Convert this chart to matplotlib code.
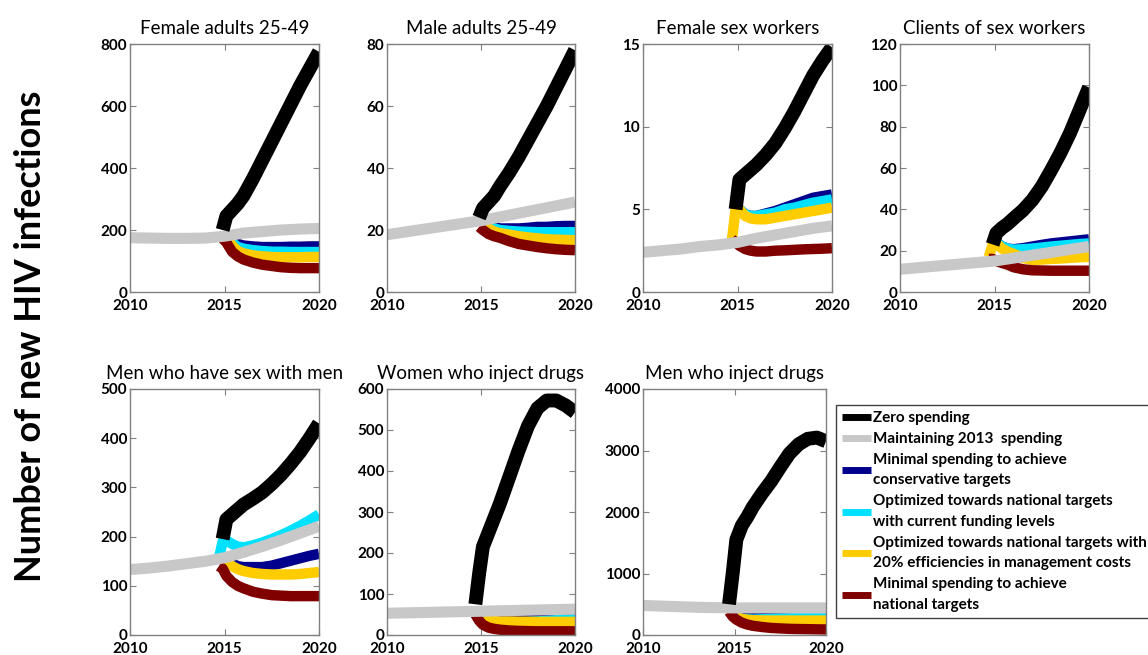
import numpy as np
import matplotlib
matplotlib.use('Agg')
from matplotlib import pyplot as plt
from matplotlib.lines import Line2D

plt.rcParams['font.family'] = ['Lato', 'DejaVu Sans']

nan = np.nan
years = [2010, 2011, 2012, 2013, 2014, 2015, 2016, 2017, 2018, 2019, 2020]
t_proj = [2014.7, 2014.9, 2015.1, 2015.4, 2015.7, 2016, 2016.5, 2017, 2017.5, 2018, 2018.5, 2019, 2019.5, 2020]

titles = ['Female adults 25-49', 'Male adults 25-49', 'Female sex workers', 'Clients of sex workers',
          'Men who have sex with men', 'Women who inject drugs', 'Men who inject drugs']
ymax = [800, 80, 15, 120, 500, 600, 4000]
ystep = [200, 20, 5, 20, 100, 100, 1000]

labels = ['Zero spending', 'Maintaining 2013  spending',
          'Minimal spending to achieve\nconservative targets',
          'Optimized towards national targets\nwith current funding levels',
          'Optimized towards national targets with\n20% efficiencies in management costs',
          'Minimal spending to achieve\nnational targets']
colors = ['#000000', '#c8c8c8', '#00008c', '#00e1ff', '#ffcc00', '#800000']

# maintaining 2013 spending (gray), per year
maintain = [
    [175, 174, 173, 173, 174, 180, 190, 195, 200, 203, 205],
    [18.5, 19.4, 20.3, 21.2, 22.1, 23, 24.2, 25.4, 26.6, 27.8, 29],
    [2.4, 2.5, 2.6, 2.75, 2.85, 3.0, 3.25, 3.45, 3.65, 3.85, 4.0],
    [11, 11.8, 12.6, 13.4, 14.2, 15, 16.4, 17.8, 19.2, 20.6, 22],
    [133, 136, 140, 145, 150, 157, 168, 180, 193, 207, 221],
    [53, 54, 55, 56, 57, 58, 59, 60, 61, 62, 63],
    [480, 470, 460, 450, 445, 440, 440, 440, 440, 440, 440],
]

# projections from 2015 on t_proj
zero = [
    [nan, 200, 245, 265, 285, 310, 365, 425, 485, 545, 605, 665, 720, 775],
    [nan, 24, 27, 29, 31, 34, 38.5, 43.5, 49, 54.5, 60, 66, 72, 78],
    [nan, 5.0, 6.8, 7.1, 7.4, 7.7, 8.3, 9.0, 9.9, 10.9, 12.0, 13.1, 14.0, 14.8],
    [nan, 23, 28.5, 31, 33, 35.5, 39.5, 44.5, 51, 59, 67.5, 77, 88, 99],
    [nan, 195, 235, 245, 255, 265, 277, 290, 307, 326, 348, 372, 400, 430],
    [75, 150, 215, 250, 285, 320, 385, 450, 510, 553, 572, 572, 560, 543],
    [500, 1000, 1550, 1780, 1920, 2080, 2300, 2500, 2730, 2950, 3100, 3190, 3210, 3150],
]
conservative = [
    [nan, nan, 178, 165, 155, 150, 147, 145, 145, 145, 146, 146, 147, 147],
    [nan, nan, 22, 21.5, 21, 20.5, 20.5, 20.5, 20.7, 21, 21, 21.2, 21.3, 21.3],
    [nan, nan, 5.0, 4.7, 4.6, 4.6, 4.75, 4.9, 5.1, 5.3, 5.5, 5.7, 5.8, 5.9],
    [nan, nan, 24, 22, 21, 20.7, 21.2, 22, 22.8, 23.5, 24, 24.5, 25, 25.5],
    [nan, nan, 155, 145, 140, 138, 138, 138, 141, 146, 151, 156, 161, 165],
    [nan, nan, 40, 35, 35, 35, 36, 37, 38, 39, 39.5, 40, 40.5, 41],
    [nan, nan, 330, 325, 320, 320, 320, 320, 320, 320, 322, 325, 328, 330],
]
current = [
    [nan, nan, 178, 160, 145, 140, 135, 132, 130, 130, 129, 129, 129, 129],
    [nan, nan, 22, 21, 20.5, 20, 19.7, 19.5, 19.4, 19.3, 19.3, 19.3, 19.3, 19.3],
    [nan, nan, 5.0, 4.7, 4.6, 4.6, 4.7, 4.8, 5.0, 5.1, 5.25, 5.4, 5.5, 5.6],
    [nan, nan, 24, 22, 21, 20.5, 20.7, 21, 21.5, 22, 22.4, 22.8, 23.2, 23.5],
    [155, 190, 192, 185, 180, 178, 182, 188, 195, 203, 212, 222, 233, 245],
    [nan, nan, 40, 30, 28, 27, 28, 30, 31.5, 33, 34.5, 36, 37, 38],
    [nan, nan, 280, 260, 255, 250, 255, 260, 265, 270, 275, 280, 285, 290],
]
efficient = [
    [nan, nan, 178, 150, 132, 125, 118, 115, 113, 112, 112, 112, 113, 113],
    [nan, nan, 22, 20.5, 19.5, 19, 18.5, 18, 17.6, 17.3, 17, 16.9, 16.8, 16.7],
    [3.1, 5.0, 5.0, 4.6, 4.45, 4.4, 4.4, 4.5, 4.6, 4.7, 4.8, 4.9, 5.0, 5.1],
    [17, 23, 23.5, 21, 19.5, 18.5, 16.5, 15.5, 15.7, 16, 16.2, 16.5, 16.8, 17],
    [nan, 155, 150, 140, 134, 130, 126, 124, 123, 123, 123, 124, 126, 128],
    [nan, nan, 40, 35, 34, 33, 33, 32.5, 32.5, 32, 32, 32, 32, 32],
    [nan, nan, 300, 260, 248, 240, 237, 235, 235, 235, 235, 235, 235, 235],
]
national = [
    [nan, 172, 160, 130, 115, 105, 95, 88, 84, 80, 78, 77, 77, 77],
    [nan, 21, 20, 18.7, 18, 17.5, 16.4, 15.5, 15, 14.5, 14.1, 13.8, 13.6, 13.5],
    [3.2, 3.0, 2.8, 2.6, 2.5, 2.45, 2.45, 2.5, 2.52, 2.55, 2.58, 2.6, 2.62, 2.65],
    [16, 16, 15, 14, 13.2, 12, 11, 10.5, 10.4, 10.3, 10.3, 10.3, 10.3, 10.3],
    [140, 135, 120, 108, 100, 95, 88, 84, 81, 80, 79, 79, 79, 79],
    [50, 35, 25, 18, 15, 13, 11, 10, 9.5, 9, 9, 9, 9, 9],
    [380, 300, 250, 200, 170, 150, 130, 115, 107, 100, 97, 95, 92, 90],
]

# axes boxes in pixels (left, top, right, bottom) of a 1148x655 figure
W, H = 1148, 655
boxes = [(130, 44, 319, 292), (387, 44, 575, 292), (643, 44, 832, 292), (900, 44, 1089, 292),
         (130, 389, 319, 635), (387, 389, 575, 635), (643, 389, 826, 635)]

fig = plt.figure(figsize=(W / 100, H / 100), dpi=100)

for i in range(7):
    l, t, r, b = boxes[i]
    ax = fig.add_axes([l / W, 1 - b / H, (r - l) / W, (b - t) / H])
    for vals, c in zip([conservative[i], current[i], efficient[i], national[i]], colors[2:]):
        ax.plot(t_proj, vals, color=c, lw=7.5, solid_capstyle='butt')
    ax.plot(years, maintain[i], color=colors[1], lw=8, solid_capstyle='butt')
    ax.plot(t_proj, zero[i], color=colors[0], lw=10, solid_capstyle='butt')
    ax.set_xlim(2010, 2020)
    ax.set_ylim(0, ymax[i])
    ax.set_xticks([2010, 2015, 2020])
    ax.set_yticks(np.arange(0, ymax[i] + ystep[i] / 2, ystep[i]))
    ax.tick_params(direction='in', top=True, right=True, length=4, width=0.8, color='#808080',
                   labelsize=11, pad=2)
    ax.tick_params(axis='x', pad=5)
    for lab in ax.get_xticklabels() + ax.get_yticklabels():
        lab.set_fontweight('bold')
    for sp in ax.spines.values():
        sp.set_color('#808080')
        sp.set_linewidth(1.0)
    ax.set_title(titles[i], fontsize=13.5, pad=7)

handles = [Line2D([0], [0], color=c, lw=5, solid_capstyle='butt') for c in colors]
leg = fig.legend(handles, labels, loc='upper left', bbox_to_anchor=(836 / W, 1 - 405 / H),
                 prop={'weight': 'bold', 'size': 11}, frameon=True, fancybox=False,
                 edgecolor='#404040', framealpha=1, borderaxespad=0, handlelength=1.9,
                 handletextpad=0.15, labelspacing=0.45, borderpad=0.4)
for txt in leg.get_texts():
    txt.set_linespacing(1.6)

fig.text(0.027, 0.486, 'Number of new HIV infections', rotation=90, ha='center', va='center',
         fontsize=26, fontweight='bold')

fig.savefig('out.png', dpi=100)
